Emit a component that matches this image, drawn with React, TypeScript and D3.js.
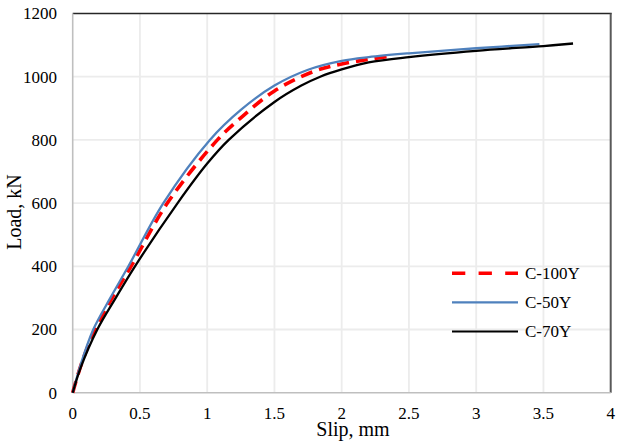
import React, { useRef, useEffect } from "react";
import * as d3 from "d3";

// C-100Y (red dashed)
const slip100 = [0, 0.06, 0.166, 0.3, 0.434, 0.704, 1.076, 1.25, 1.5, 1.8, 2.0, 2.2, 2.38];
const load100 = [0, 85, 200, 305, 400, 600, 800, 870, 955, 1018, 1040, 1055, 1066];

// C-50Y (blue)
const slip50 = [0, 0.06, 0.153, 0.28, 0.414, 0.674, 1.02, 1.25, 1.5, 1.75, 2.0, 2.2, 2.5, 3.0, 3.47];
const load50 = [0, 90, 200, 300, 400, 600, 800, 895, 972, 1022, 1050, 1062, 1074, 1090, 1103];

// C-70Y (black)
const slip70 = [0, 0.06, 0.183, 0.32, 0.463, 0.78, 1.0, 1.16, 1.5, 1.7, 1.84, 2.0, 2.2, 2.5, 3.0, 3.5, 3.72];
const load70 = [0, 80, 200, 300, 400, 600, 725, 800, 920, 972, 1000, 1023, 1045, 1062, 1082, 1097, 1105];

const seriesNames = ["C-100Y", "C-50Y", "C-70Y"];
const xTicks = [0, 0.5, 1, 1.5, 2, 2.5, 3, 3.5, 4];
const xTickLabels = ["0", "0.5", "1", "1.5", "2", "2.5", "3", "3.5", "4"];
const yTicks = [0, 200, 400, 600, 800, 1000, 1200];
const yTickLabels = ["0", "200", "400", "600", "800", "1000", "1200"];

const FONT = "'Liberation Serif', 'Times New Roman', serif";

const App: React.FC = () => {
  const ref = useRef<SVGSVGElement | null>(null);

  useEffect(() => {
    const svg = d3.select(ref.current);
    svg.selectAll("*").remove();

    const left = 72.7, right = 610.7, top = 13.5, bottom = 392.7;
    const x = d3.scaleLinear().domain([0, 4]).range([left, right]);
    const y = d3.scaleLinear().domain([0, 1200]).range([bottom, top]);

    const series = [
      { name: seriesNames[0], slip: slip100, load: load100, color: "#ff0000", width: 3.6, dash: "12,7" },
      { name: seriesNames[1], slip: slip50, load: load50, color: "#4f81bd", width: 2.3, dash: null },
      { name: seriesNames[2], slip: slip70, load: load70, color: "#000000", width: 2.3, dash: null },
    ];

    // gridlines
    svg.append("g")
      .selectAll("line")
      .data(xTicks.filter(t => t > 0 && t < 4))
      .join("line")
      .attr("x1", d => x(d)).attr("x2", d => x(d))
      .attr("y1", top).attr("y2", bottom)
      .attr("stroke", "#ececec").attr("stroke-width", 1.8);
    svg.append("g")
      .selectAll("line")
      .data(yTicks.filter(t => t > 0 && t < 1200))
      .join("line")
      .attr("x1", left).attr("x2", right)
      .attr("y1", d => y(d)).attr("y2", d => y(d))
      .attr("stroke", "#ececec").attr("stroke-width", 1.8);

    // frame
    svg.append("line").attr("x1", left).attr("x2", right + 1).attr("y1", top).attr("y2", top)
      .attr("stroke", "#262626").attr("stroke-width", 1.3);
    svg.append("line").attr("x1", right).attr("x2", right).attr("y1", top).attr("y2", bottom)
      .attr("stroke", "#595959").attr("stroke-width", 2);
    svg.append("line").attr("x1", left).attr("x2", left).attr("y1", top).attr("y2", bottom)
      .attr("stroke", "#bfbfbf").attr("stroke-width", 1.6);
    svg.append("line").attr("x1", left).attr("x2", right).attr("y1", bottom).attr("y2", bottom)
      .attr("stroke", "#bfbfbf").attr("stroke-width", 1.6);

    // tick labels
    svg.append("g")
      .selectAll("text")
      .data(xTicks)
      .join("text")
      .attr("x", d => x(d))
      .attr("y", 418.5)
      .attr("text-anchor", "middle")
      .attr("font-family", FONT)
      .attr("font-size", 17)
      .attr("fill", "#000")
      .text((d, i) => xTickLabels[i]);
    svg.append("g")
      .selectAll("text")
      .data(yTicks)
      .join("text")
      .attr("x", 57)
      .attr("y", d => y(d) + 5.8)
      .attr("text-anchor", "end")
      .attr("font-family", FONT)
      .attr("font-size", 17)
      .attr("fill", "#000")
      .text((d, i) => yTickLabels[i]);

    // axis titles
    svg.append("text")
      .attr("x", 353).attr("y", 436)
      .attr("text-anchor", "middle")
      .attr("font-family", FONT).attr("font-size", 20)
      .text("Slip, mm");
    svg.append("text")
      .attr("transform", "translate(20.5,212) rotate(-90)")
      .attr("text-anchor", "middle")
      .attr("font-family", FONT).attr("font-size", 20)
      .text("Load, kN");

    // curves
    const line = d3.line<[number, number]>()
      .x(d => x(d[0]))
      .y(d => y(d[1]))
      .curve(d3.curveCatmullRom.alpha(0.5));

    series.forEach(s => {
      const pts: [number, number][] = s.slip.map((v, i) => [v, s.load[i]]);
      svg.append("path")
        .datum(pts)
        .attr("d", line)
        .attr("fill", "none")
        .attr("stroke", s.color)
        .attr("stroke-width", s.width)
        .attr("stroke-dasharray", s.dash)
        .attr("stroke-linejoin", "round");
    });

    // legend
    const legendY = [273.3, 302.3, 331.5];
    const lg = svg.append("g");
    series.forEach((s, i) => {
      lg.append("line")
        .attr("x1", 452).attr("x2", 518)
        .attr("y1", legendY[i]).attr("y2", legendY[i])
        .attr("stroke", s.color)
        .attr("stroke-width", s.dash ? 3.6 : 2.2)
        .attr("stroke-dasharray", s.dash ? "13.3,13.3" : null);
      lg.append("text")
        .attr("x", 525).attr("y", legendY[i] + 5.8)
        .attr("font-family", FONT).attr("font-size", 17)
        .attr("fill", "#000")
        .text(s.name);
    });
  }, []);

  return (
    <svg
      width={622}
      height={446}
      ref={ref}
      style={{ position: "absolute", left: 0, top: 0, background: "#fff" }}
    />
  );
};

export default App;
